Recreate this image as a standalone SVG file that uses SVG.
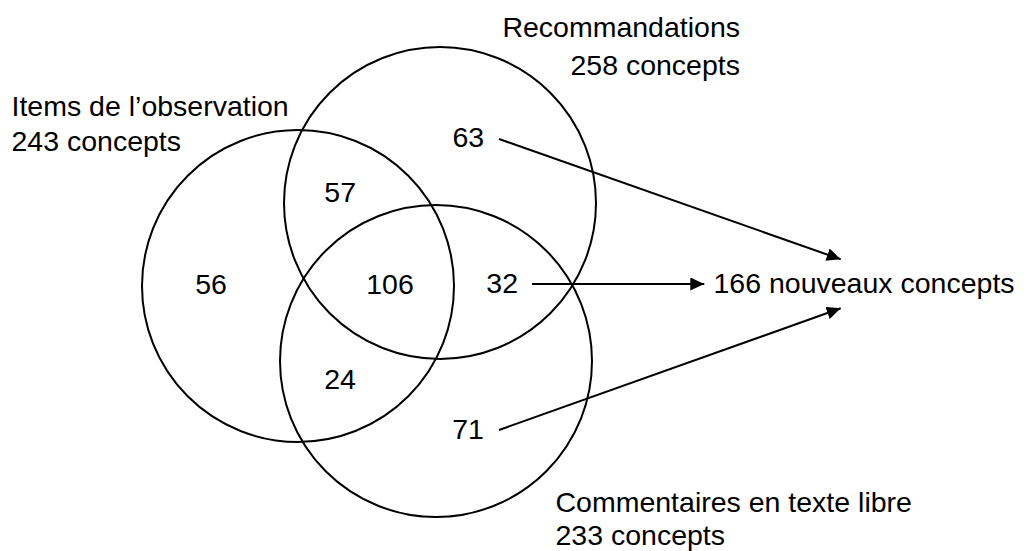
<svg xmlns="http://www.w3.org/2000/svg" width="1026" height="551" viewBox="0 0 1026 551">
<style>
.c{fill:none;stroke:#000;stroke-width:2}
.t{font-family:"Liberation Sans",Arial,sans-serif;font-size:28.5px;fill:#000}
.m{text-anchor:middle}
.e{text-anchor:end}
.a{fill:none;stroke:#000;stroke-width:2;marker-end:url(#ah)}
</style>
<defs>
<marker id="ah" markerUnits="userSpaceOnUse" markerWidth="16" markerHeight="14" refX="14" refY="6.5" orient="auto">
<path d="M0,0 L14,6.5 L0,13 z" fill="#000"/>
</marker>
</defs>
<rect width="1026" height="551" fill="#fff"/>
<g id="set-items">
<circle class="c" cx="298" cy="286" r="156"/>
<text class="t" x="11.5" y="116">Items de l’observation</text>
<text class="t" x="11.5" y="151">243 concepts</text>
</g>
<g id="set-recommandations">
<circle class="c" cx="440" cy="203" r="156"/>
<text class="t e" x="740" y="37">Recommandations</text>
<text class="t e" x="740" y="75">258 concepts</text>
</g>
<g id="set-commentaires">
<circle class="c" cx="436" cy="361" r="156"/>
<text class="t" x="555.5" y="512">Commentaires en texte libre</text>
<text class="t" x="555.5" y="545">233 concepts</text>
</g>
<g id="counts">
<text class="t m" x="468.3" y="147">63</text>
<text class="t m" x="340.2" y="202">57</text>
<text class="t m" x="211" y="293.5">56</text>
<text class="t m" x="390" y="293.5">106</text>
<text class="t m" x="502.2" y="293">32</text>
<text class="t m" x="340" y="389">24</text>
<text class="t m" x="468" y="438.5">71</text>
</g>
<g id="new-concepts">
<text class="t" x="713.5" y="293">166 nouveaux concepts</text>
</g>
<g id="connectors">
<line class="a" x1="499" y1="139" x2="840.7" y2="259.3"/>
<line class="a" x1="532" y1="284" x2="704.3" y2="284"/>
<line class="a" x1="499" y1="430" x2="840.7" y2="308.3"/>
</g>
</svg>
